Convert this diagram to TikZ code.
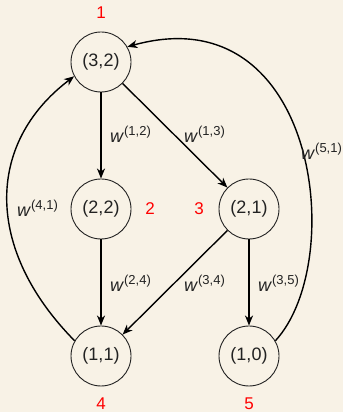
\documentclass[tikz,border=0pt]{standalone}
\usepackage{fontspec}
\setmainfont{Liberation Sans}
\usetikzlibrary{arrows.meta}
\definecolor{bg}{HTML}{F8F2E6}
\definecolor{ink}{HTML}{222222}
\newcommand\wlab[1]{\textit{w}\raisebox{7pt}{\fontsize{13}{14}\selectfont(#1)}}
\begin{document}
\begin{tikzpicture}[x=1pt,y=1pt,
  st/.style={circle,draw=ink,line width=0.9pt,minimum size=60pt,inner sep=0pt,text=ink,font=\fontsize{18}{20}\selectfont},
  idx/.style={text=red,font=\fontsize{17}{19}\selectfont},
  wl/.style={anchor=base west,text=ink,inner sep=0pt,font=\fontsize{18}{20}\selectfont},
  ed/.style={line width=1.4pt,-{Stealth[length=10pt,width=8pt,inset=3pt]}}]
\fill[bg] (0,0) rectangle (343,412);
\useasboundingbox (0,0) rectangle (343,412);
\node[st] (n1) at (101,350) {(3,2)};
\node[st] (n2) at (101,203) {(2,2)};
\node[st] (n3) at (249,203) {(2,1)};
\node[st] (n4) at (101,56) {(1,1)};
\node[st] (n5) at (249,56) {(1,0)};
\node[idx] (i1) at (101,399) {1};
\node[idx] (i2) at (150,203) {2};
\node[idx] (i3) at (199,203) {3};
\node[idx] (i4) at (101,8) {4};
\node[idx] (i5) at (249,8) {5};
\draw[ed] (n1) -- (n2);
\draw[ed] (n1) -- (n3);
\draw[ed] (n2) -- (n4);
\draw[ed] (n3) -- (n4);
\draw[ed] (n3) -- (n5);
\draw[ed] (n4.150) .. controls (-15,162) and (-15,268) .. (n1.208);
\draw[ed] (n5.30) .. controls (348,150) and (318,418) .. (n1.30);
\node[wl] (l12) at (110,269) {\wlab{1,2}};
\node[wl] (l13) at (184,269) {\wlab{1,3}};
\node[wl] (l51) at (301,252) {\wlab{5,1}};
\node[wl] (l41) at (17,195) {\wlab{4,1}};
\node[wl] (l24) at (110,120) {\wlab{2,4}};
\node[wl] (l34) at (184,120) {\wlab{3,4}};
\node[wl] (l35) at (258,120) {\wlab{3,5}};
\end{tikzpicture}
\end{document}
